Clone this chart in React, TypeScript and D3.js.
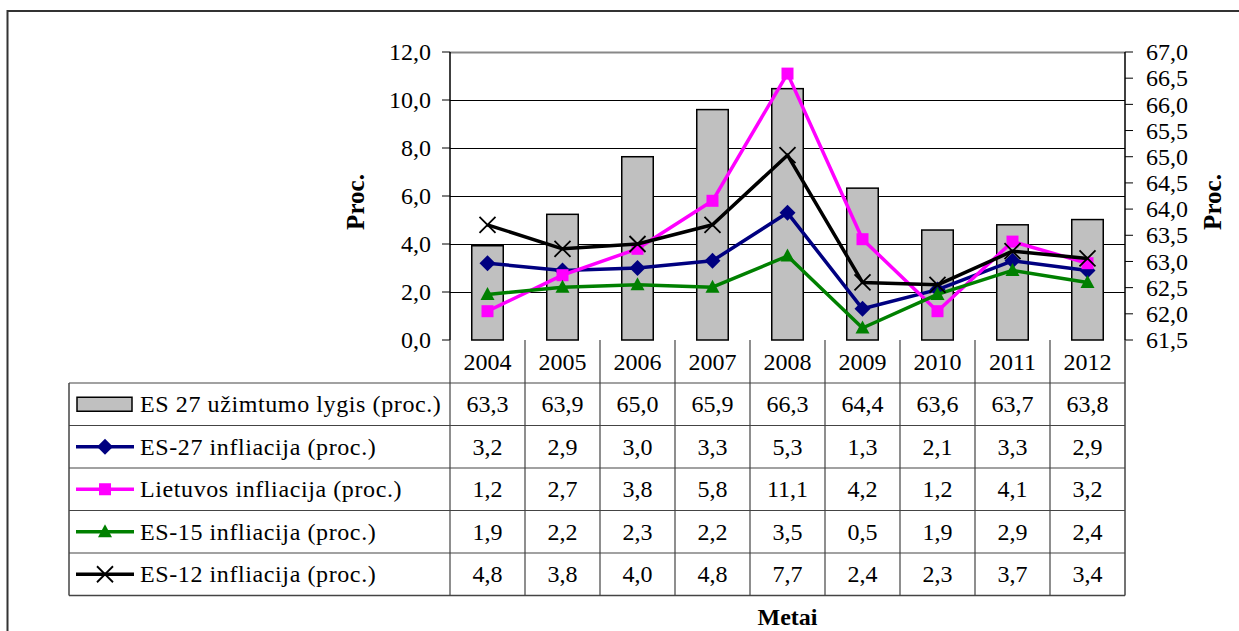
import { useEffect, useRef } from "react";
import * as d3 from "d3";

const years = ["2004", "2005", "2006", "2007", "2008", "2009", "2010", "2011", "2012"];
const employment = [63.3, 63.9, 65.0, 65.9, 66.3, 64.4, 63.6, 63.7, 63.8];
const es27 = [3.2, 2.9, 3.0, 3.3, 5.3, 1.3, 2.1, 3.3, 2.9];
const lithuania = [1.2, 2.7, 3.8, 5.8, 11.1, 4.2, 1.2, 4.1, 3.2];
const es15 = [1.9, 2.2, 2.3, 2.2, 3.5, 0.5, 1.9, 2.9, 2.4];
const es12 = [4.8, 3.8, 4.0, 4.8, 7.7, 2.4, 2.3, 3.7, 3.4];
const leftTicks = [0, 2, 4, 6, 8, 10, 12];
const rightTicks = [61.5, 62, 62.5, 63, 63.5, 64, 64.5, 65, 65.5, 66, 66.5, 67];

const barLabel = "ES 27 užimtumo lygis (proc.)";
const lineSeries = [
  { label: "ES-27 infliacija (proc.)", values: es27, color: "#000080", marker: "diamond" },
  { label: "Lietuvos infliacija (proc.)", values: lithuania, color: "#FF00FF", marker: "square" },
  { label: "ES-15 infliacija (proc.)", values: es15, color: "#008000", marker: "triangle" },
  { label: "ES-12 infliacija (proc.)", values: es12, color: "#000000", marker: "cross" },
];

const FONT = "Liberation Serif, Times New Roman, Tinos, DejaVu Serif, serif";
const locale = d3.formatLocale({ decimal: ",", thousands: " ", grouping: [3], currency: ["", ""] });
const fmt = locale.format(".1f");

export default function App() {
  const svgRef = useRef<SVGSVGElement>(null);

  useEffect(() => {
    if (!svgRef.current) return;
    const svg = d3.select(svgRef.current);
    svg.selectAll("*").remove();

    const width = 1239;
    const height = 631;
    const plot = { left: 450, right: 1125, top: 52, bottom: 340 };
    const tableLeft = 69;
    const headerBottom = 383;
    const rowH = 42.5;

    svg.append("rect").attr("width", width).attr("height", height).attr("fill", "#fff");

    // outer chart frame (right and bottom run off the picture)
    svg
      .append("rect")
      .attr("x", 7.5)
      .attr("y", 11)
      .attr("width", 1300)
      .attr("height", 700)
      .attr("fill", "none")
      .attr("stroke", "#333")
      .attr("stroke-width", 2);

    const x = d3.scaleBand<string>().domain(years).range([plot.left, plot.right]).padding(0);
    const yLeft = d3.scaleLinear().domain([0, 12]).range([plot.bottom, plot.top]);
    const yRight = d3.scaleLinear().domain([61.5, 67]).range([plot.bottom, plot.top]);
    const cx = (d: string) => (x(d) as number) + x.bandwidth() / 2;
    const barW = x.bandwidth() * 0.42;

    // gridlines
    svg
      .append("g")
      .selectAll("line")
      .data(leftTicks.filter(t => t > 0))
      .enter()
      .append("line")
      .attr("x1", plot.left)
      .attr("x2", plot.right)
      .attr("y1", d => Math.round(yLeft(d)) + 0.5)
      .attr("y2", d => Math.round(yLeft(d)) + 0.5)
      .attr("stroke", d => (d === 12 ? "#888" : "#000"))
      .attr("stroke-width", d => (d === 12 ? 2 : 1));

    // bars on the right axis
    svg
      .append("g")
      .selectAll("rect")
      .data(employment)
      .enter()
      .append("rect")
      .attr("x", (_, i) => cx(years[i]) - barW / 2)
      .attr("y", d => yRight(d))
      .attr("width", barW)
      .attr("height", d => plot.bottom - yRight(d))
      .attr("fill", "#C0C0C0")
      .attr("stroke", "#000")
      .attr("stroke-width", 1.5);

    // axes
    const leftAxis = svg.append("g");
    leftAxis
      .append("line")
      .attr("x1", plot.left).attr("x2", plot.left)
      .attr("y1", plot.top).attr("y2", plot.bottom)
      .attr("stroke", "#000").attr("stroke-width", 1.5);
    leftTicks.forEach(t => {
      leftAxis
        .append("line")
        .attr("x1", plot.left - 8).attr("x2", plot.left)
        .attr("y1", yLeft(t)).attr("y2", yLeft(t))
        .attr("stroke", "#000").attr("stroke-width", 1);
      leftAxis
        .append("text")
        .attr("x", 431)
        .attr("y", yLeft(t))
        .attr("dy", "0.34em")
        .attr("text-anchor", "end")
        .style("font-family", FONT)
        .attr("font-size", 24)
        .text(fmt(t));
    });

    const rightAxis = svg.append("g");
    rightAxis
      .append("line")
      .attr("x1", plot.right).attr("x2", plot.right)
      .attr("y1", plot.top).attr("y2", plot.bottom)
      .attr("stroke", "#000").attr("stroke-width", 1.5);
    rightTicks.forEach(t => {
      rightAxis
        .append("line")
        .attr("x1", plot.right).attr("x2", plot.right + 8)
        .attr("y1", yRight(t)).attr("y2", yRight(t))
        .attr("stroke", "#000").attr("stroke-width", 1);
      rightAxis
        .append("text")
        .attr("x", 1146)
        .attr("y", yRight(t))
        .attr("dy", "0.34em")
        .style("font-family", FONT)
        .attr("font-size", 24)
        .text(fmt(t));
    });

    // axis titles
    svg
      .append("text")
      .attr("transform", `translate(364, ${(plot.top + plot.bottom) / 2 + 6}) rotate(-90)`)
      .attr("text-anchor", "middle")
      .style("font-family", FONT)
      .attr("font-weight", "bold")
      .attr("font-size", 25)
      .text("Proc.");
    svg
      .append("text")
      .attr("transform", `translate(1221, ${(plot.top + plot.bottom) / 2 + 6}) rotate(-90)`)
      .attr("text-anchor", "middle")
      .style("font-family", FONT)
      .attr("font-weight", "bold")
      .attr("font-size", 25)
      .text("Proc.");

    // markers
    const drawMarker = (g: d3.Selection<SVGGElement, unknown, null, undefined>, kind: string, px: number, py: number, color: string) => {
      if (kind === "diamond") {
        g.append("path")
          .attr("d", `M${px},${py - 8}L${px + 8},${py}L${px},${py + 8}L${px - 8},${py}Z`)
          .attr("fill", color);
      } else if (kind === "square") {
        g.append("rect")
          .attr("x", px - 6).attr("y", py - 6)
          .attr("width", 12).attr("height", 12)
          .attr("fill", color);
      } else if (kind === "triangle") {
        g.append("path")
          .attr("d", `M${px},${py - 7.5}L${px + 7},${py + 5.5}L${px - 7},${py + 5.5}Z`)
          .attr("fill", color);
      } else {
        g.append("path")
          .attr("d", `M${px - 8},${py - 8}L${px + 8},${py + 8}M${px - 8},${py + 8}L${px + 8},${py - 8}`)
          .attr("stroke", color)
          .attr("stroke-width", 1.8)
          .attr("fill", "none");
      }
    };

    const line = d3
      .line<number>()
      .x((_, i) => cx(years[i]))
      .y(d => yLeft(d));

    lineSeries.forEach(s => {
      const g = svg.append("g");
      g.append("path")
        .datum(s.values)
        .attr("d", line)
        .attr("fill", "none")
        .attr("stroke", s.color)
        .attr("stroke-width", 3.5)
        .attr("stroke-linejoin", "round");
      s.values.forEach((v, i) => drawMarker(g, s.marker, cx(years[i]), yLeft(v), s.color));
    });

    // data table
    const table = svg.append("g");
    const tableBottom = headerBottom + rowH * 5;
    const rows = [
      { label: barLabel, values: employment, marker: "bar", color: "#C0C0C0" },
      ...lineSeries,
    ];

    // horizontal lines
    table
      .append("line")
      .attr("x1", tableLeft).attr("x2", plot.right)
      .attr("y1", headerBottom).attr("y2", headerBottom)
      .attr("stroke", "#444").attr("stroke-width", 1.2);
    for (let r = 1; r <= 5; r++) {
      const yy = headerBottom + rowH * r;
      table
        .append("line")
        .attr("x1", tableLeft).attr("x2", plot.right)
        .attr("y1", yy).attr("y2", yy)
        .attr("stroke", "#444").attr("stroke-width", r === 5 ? 1.5 : 1.2);
    }
    // vertical lines
    table
      .append("line")
      .attr("x1", tableLeft).attr("x2", tableLeft)
      .attr("y1", headerBottom).attr("y2", tableBottom)
      .attr("stroke", "#444").attr("stroke-width", 1.5);
    years.forEach(yr => {
      const xx = x(yr) as number;
      table
        .append("line")
        .attr("x1", xx).attr("x2", xx)
        .attr("y1", plot.bottom).attr("y2", tableBottom)
        .attr("stroke", "#444").attr("stroke-width", 1.2);
    });
    table
      .append("line")
      .attr("x1", plot.right).attr("x2", plot.right)
      .attr("y1", plot.bottom).attr("y2", tableBottom)
      .attr("stroke", "#444").attr("stroke-width", 1.5);

    // header: years
    years.forEach(yr => {
      table
        .append("text")
        .attr("x", cx(yr))
        .attr("y", (plot.bottom + headerBottom) / 2)
        .attr("dy", "0.34em")
        .attr("text-anchor", "middle")
        .style("font-family", FONT)
        .attr("font-size", 24)
        .text(yr);
    });

    rows.forEach((row, r) => {
      const ry = headerBottom + rowH * r + rowH / 2;
      const g = table.append("g");
      if (row.marker === "bar") {
        g.append("rect")
          .attr("x", 77).attr("y", ry - 7)
          .attr("width", 55).attr("height", 14)
          .attr("fill", "#C0C0C0")
          .attr("stroke", "#000")
          .attr("stroke-width", 1.5);
      } else {
        g.append("line")
          .attr("x1", 76).attr("x2", 134)
          .attr("y1", ry).attr("y2", ry)
          .attr("stroke", row.color).attr("stroke-width", 3.5);
        drawMarker(g, row.marker, 105, ry, row.color);
      }
      g.append("text")
        .attr("x", 140)
        .attr("y", ry)
        .attr("dy", "0.34em")
        .style("font-family", FONT)
        .attr("font-size", 24)
        .attr("letter-spacing", 0.6)
        .text(row.label);
      row.values.forEach((v, i) => {
        g.append("text")
          .attr("x", cx(years[i]))
          .attr("y", ry)
          .attr("dy", "0.34em")
          .attr("text-anchor", "middle")
          .style("font-family", FONT)
          .attr("font-size", 24)
          .text(fmt(v));
      });
    });

    svg
      .append("text")
      .attr("x", (plot.left + plot.right) / 2)
      .attr("y", 617)
      .attr("dy", "0.34em")
      .attr("text-anchor", "middle")
      .style("font-family", FONT)
      .attr("font-weight", "bold")
      .attr("font-size", 24)
      .text("Metai");
  }, []);

  return (
    <div style={{ position: "absolute", left: 0, top: 0, width: 1239, height: 631, overflow: "hidden" }}>
      <svg ref={svgRef} width={1239} height={631} viewBox="0 0 1239 631" style={{ display: "block" }} />
    </div>
  );
}
